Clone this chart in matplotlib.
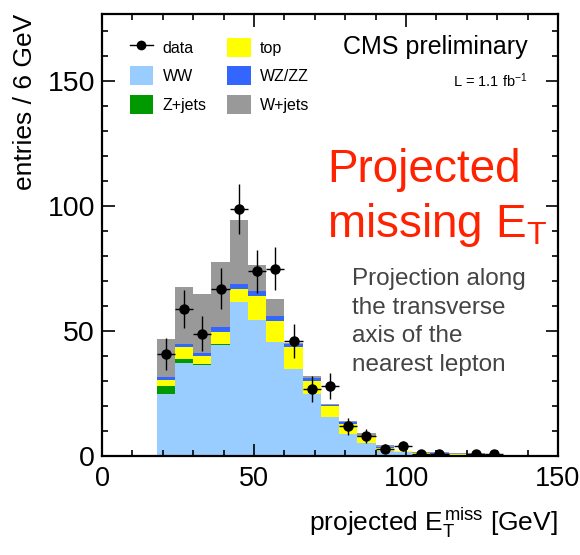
import numpy as np
import matplotlib
matplotlib.use("Agg")
import matplotlib.pyplot as plt
from matplotlib.patches import Patch
from matplotlib.lines import Line2D

plt.rcParams['font.family'] = ['Liberation Sans', 'DejaVu Sans']
plt.rcParams['mathtext.fontset'] = 'custom'
plt.rcParams['mathtext.rm'] = 'Liberation Sans'
plt.rcParams['mathtext.it'] = 'Liberation Sans'

# bins of 6 GeV starting at 18 GeV
bin_lo = [18, 24, 30, 36, 42, 48, 54, 60, 66, 72, 78, 84, 90, 96, 102,
          108, 114, 120, 126, 132, 138, 144]

ww = [24.7, 37.1, 36.4, 44.7, 61.7, 54.4, 45.7, 34.8, 25.0, 15.7, 8.8,
      5.1, 2.1, 1.5, 0.8, 0.6, 0.4, 0.3, 0.2, 0.2, 0.1, 0.1]
zjets = [3.3, 1.8, 0.3, 0.2, 0.1, 0.1, 0.1, 0.0, 0.0, 0.0, 0.0,
         0.0, 0.0, 0.0, 0.0, 0.0, 0.0, 0.0, 0.0, 0.0, 0.0, 0.0]
top = [2.4, 4.8, 3.3, 5.0, 5.1, 9.6, 8.4, 8.9, 5.1, 4.2, 4.0,
       2.4, 1.2, 0.4, 0.3, 0.4, 0.3, 0.1, 0.1, 0.0, 0.0, 0.0]
wzzz = [1.1, 1.1, 1.2, 1.9, 2.1, 2.0, 1.9, 1.4, 1.0, 0.4, 0.8,
        0.6, 0.4, 0.1, 0.2, 0.1, 0.1, 0.1, 0.1, 0.0, 0.0, 0.0]
wjets = [15.4, 22.9, 23.8, 25.9, 25.4, 10.4, 6.8, 0.3, 1.0, 0.7, 0.5,
         1.2, 0.7, 0.1, 0.4, 0.4, 0.3, 0.6, 0.4, 0.2, 0.3, 0.3]
data = [41, 59, 49, 67, 99, 74, 75, 46, 27, 28, 12, 8, 3, 4, 1, 1, 0, 1, 1, 0, 0, 0]

samples = [("WW", ww, "#99ccff"),
           ("Z+jets", zjets, "#009900"),
           ("top", top, "#ffff00"),
           ("WZ/ZZ", wzzz, "#3366ff"),
           ("W+jets", wjets, "#999999")]

note_lines = ['Projection along', 'the transverse', 'axis of the', 'nearest lepton']

fig = plt.figure(figsize=(5.8, 5.55), dpi=100)
ax = fig.add_axes([0.176, 0.178, 0.786, 0.797])

x = np.array(bin_lo, dtype=float)
bottom = np.zeros(len(x))
for name, vals, col in samples:
    vals = np.array(vals)
    ax.bar(x, vals, width=6, bottom=bottom, align='edge', color=col,
           linewidth=0, zorder=1)
    bottom += vals

d = np.array(data, dtype=float)
m = d > 0
ax.errorbar(x[m] + 3, d[m], yerr=np.sqrt(d[m]), xerr=3, fmt='o', color='black',
            ms=6.5, elinewidth=1.0, capsize=0, zorder=3)

ax.set_xlim(0, 150)
ax.set_ylim(0, 177)
ax.set_xticks([0, 50, 100, 150])
ax.set_xticks(np.arange(0, 151, 10), minor=True)
ax.set_yticks([0, 50, 100, 150])
ax.set_yticks(np.arange(0, 171, 10), minor=True)
ax.tick_params(which='both', direction='in', top=True, right=True, width=1.2,
               labelsize=20.5)
ax.tick_params(axis='x', labelsize=19.5)
ax.tick_params(which='major', length=9)
ax.tick_params(which='minor', length=4.5)
ax.tick_params(axis='x', pad=7)
ax.tick_params(axis='y', pad=5)
for s in ax.spines.values():
    s.set_linewidth(1.6)

ax.set_xlabel(r'projected $E_{\mathrm{T}}^{\mathrm{miss}}$ [GeV]', loc='right',
              fontsize=19, labelpad=10)
ax.set_ylabel('entries / 6 GeV', loc='top', fontsize=19, labelpad=8)

handles = [Line2D([], [], color='black', marker='o', ms=6, lw=1)]
labels = ['data']
for name, vals, col in samples:
    handles.append(Patch(facecolor=col, edgecolor='none'))
    labels.append(name)
# column-wise fill: data, WW, Z+jets | top, WZ/ZZ, W+jets
ax.legend(handles, labels, ncol=2, frameon=False, fontsize=11.5,
          loc='upper left', bbox_to_anchor=(0.061, 0.946), borderpad=0,
          borderaxespad=0, handlelength=1.45, handleheight=1.45,
          labelspacing=0.6, columnspacing=1.3, handletextpad=0.6)

ax.text(0.934, 0.925, 'CMS preliminary', transform=ax.transAxes, ha='right',
        va='center', fontsize=18)
ax.text(0.934, 0.85, r'L = 1.1 fb$^{-1}$', transform=ax.transAxes, ha='right',
        va='center', fontsize=10.5)

ax.text(0.493, 0.62, 'Projected', transform=ax.transAxes,
        ha='left', va='baseline', fontsize=33, color='#ff2200')
ax.text(0.493, 0.495, 'missing E$_{\\mathrm{T}}$', transform=ax.transAxes,
        ha='left', va='baseline', fontsize=33, color='#ff2200')
for i, line in enumerate(note_lines):
    ax.text(0.548, 0.387 - i * 0.0645, line, transform=ax.transAxes,
            ha='left', va='baseline', fontsize=17.5, color='#444444')

fig.savefig('out.png', dpi=100)
